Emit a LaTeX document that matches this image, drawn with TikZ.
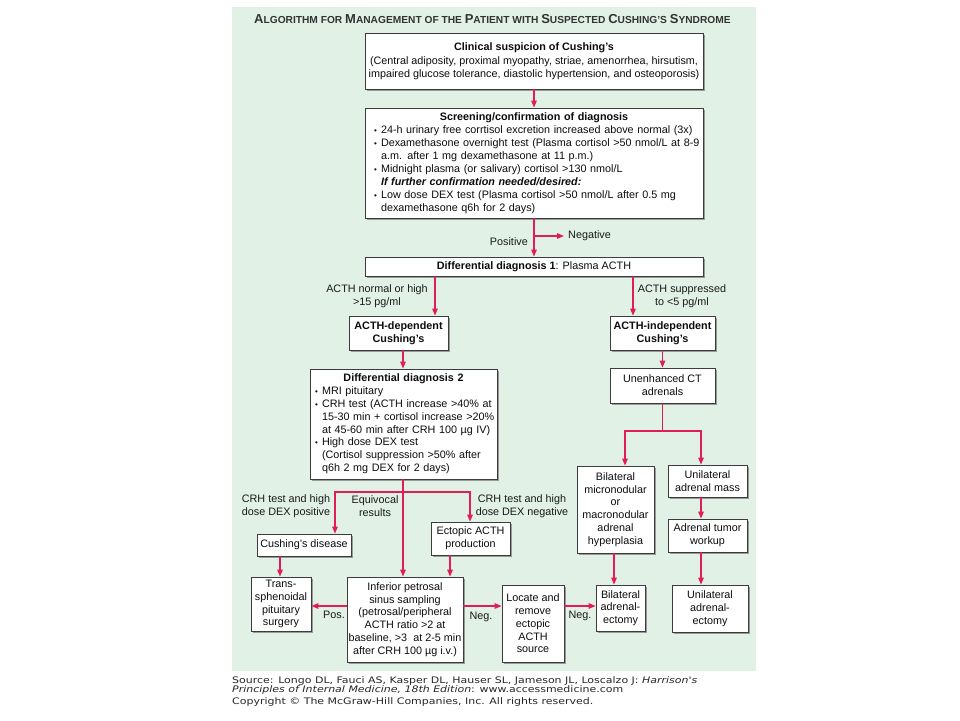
\documentclass[tikz,border=0pt]{standalone}
\usepackage{fontspec}
\setmainfont{Liberation Sans}
\newfontfamily\srcfont{DejaVu Sans}
\usetikzlibrary{arrows.meta,shadows}
\definecolor{bgc}{RGB}{226,241,230}
\definecolor{arr}{RGB}{222,30,84}
\definecolor{bord}{RGB}{60,60,60}
\newcommand\bpt{\makebox[7pt][l]{\fontsize{8}{8}\selectfont •}}
\newcommand\bhang{\hspace*{7pt}}
\newcommand\Tb[1]{{\fontsize{13}{14}\selectfont #1}}
\newcommand\Ts[1]{{\fontsize{10.2}{14}\selectfont #1}}
\tikzset{
  box/.style={draw=bord, line width=0.8pt, fill=white, inner sep=0pt, align=center,
    text=black!95, font=\fontsize{10.8}{12.8}\selectfont,
    drop shadow={shadow xshift=2pt, shadow yshift=-2pt, fill=black!40, opacity=1}},
  conn/.style={draw=arr, line width=1.3pt, -{Triangle[length=7pt,width=5.5pt]}},
  lbl/.style={font=\fontsize{10.8}{12.8}\selectfont, align=center, inner sep=0pt, text=black!90},
  srcline/.style={anchor=base west, inner sep=0pt, text=black!85, font=\srcfont\fontsize{9}{9.8}\selectfont},
}
\begin{document}
\begin{tikzpicture}[x=1pt,y=-1pt]
\useasboundingbox (0,0) rectangle (960,720);
\fill[bgc] (232,7) rectangle (756,671);
\node[anchor=base west, inner sep=0pt, text=black!80, font=\bfseries] (title) at (254,23)
 {\Tb{A}\Ts{LGORITHM FOR }\Tb{M}\Ts{ANAGEMENT OF THE }\Tb{P}\Ts{ATIENT WITH }\Tb{S}\Ts{USPECTED }\Tb{C}\Ts{USHING'S }\Tb{S}\Ts{YNDROME}};

% boxes
\node[box, minimum width=338pt, minimum height=56pt] (clin) at (534,61)
 {\textbf{Clinical suspicion of Cushing's}\\[1pt]
  (Central adiposity, proximal myopathy, striae, amenorrhea, hirsutism,\\
  impaired glucose tolerance, diastolic hypertension, and osteoporosis)};

\node[box, minimum width=338pt, minimum height=110pt, text width=320pt, align=left,
      font=\fontsize{10.8}{13}\selectfont] (screen) at (534,163)
 {{\centering\textbf{Screening/confirmation of diagnosis}\par}
  \mbox{\bpt 24-h urinary free corrtisol excretion increased above normal (3x)}\\
  \mbox{\bpt Dexamethasone overnight test (Plasma cortisol >50 nmol/L at 8-9}\\
  \mbox{\bhang a.m. after 1 mg dexamethasone at 11 p.m.)}\\
  \mbox{\bpt Midnight plasma (or salivary) cortisol >130 nmol/L}\\
  \mbox{\bhang\textbf{\textit{If further confirmation needed/desired:}}}\\
  \mbox{\bpt Low dose DEX test (Plasma cortisol >50 nmol/L after 0.5 mg}\\
  \mbox{\bhang dexamethasone q6h for 2 days)}};

\node[box, minimum width=338pt, minimum height=19pt] (dd1) at (534,266.5)
 {\textbf{Differential diagnosis 1}: Plasma ACTH};

\node[box, minimum width=99pt, minimum height=34pt] (adep) at (398.5,333)
 {\textbf{ACTH-dependent}\\\textbf{Cushing's}};
\node[box, minimum width=105pt, minimum height=34pt] (aind) at (662.5,333)
 {\textbf{ACTH-independent}\\\textbf{Cushing's}};

\node[box, minimum width=187pt, minimum height=110pt, text width=177pt, align=left] (dd2) at (403.5,424)
 {{\centering\textbf{Differential diagnosis 2}\par}
  \mbox{\bpt MRI pituitary}\\
  \mbox{\bpt CRH test (ACTH increase >40\% at}\\
  \mbox{\bhang 15-30 min + cortisol increase >20\%}\\
  \mbox{\bhang at 45-60 min after CRH 100 µg IV)}\\
  \mbox{\bpt High dose DEX test}\\
  \mbox{\bhang (Cortisol suppression >50\% after}\\
  \mbox{\bhang q6h 2 mg DEX for 2 days)}};

\node[box, minimum width=105pt, minimum height=35pt] (ct) at (662.5,385.5)
 {Unenhanced CT\\adrenals};
\node[box, minimum width=77pt, minimum height=87pt] (bhyp) at (615.5,509.5)
 {Bilateral\\micronodular\\or\\macronodular\\adrenal\\hyperplasia};
\node[box, minimum width=79pt, minimum height=32pt] (umass) at (707.5,481)
 {Unilateral\\adrenal mass};
\node[box, minimum width=79pt, minimum height=33pt] (tum) at (707.5,535.5)
 {Adrenal tumor\\workup};
\node[box, minimum width=76pt, minimum height=47pt] (uadx) at (710,608.5)
 {Unilateral\\adrenal-\\ectomy};

\node[box, minimum width=94pt, minimum height=22pt] (cd) at (304,545)
 {Cushing's disease};
\node[box, minimum width=79pt, minimum height=33pt] (ect) at (470.5,538.5)
 {Ectopic ACTH\\production};
\node[box, minimum width=60pt, minimum height=54pt] (trans) at (281,604)
 {Trans-\\sphenoidal\\pituitary\\surgery};
\node[box, minimum width=116pt, minimum height=85pt] (ipss) at (405,619.5)
 {Inferior petrosal\\sinus sampling\\(petrosal/peripheral\\ACTH ratio >2 at\\baseline, >3~ at 2-5 min\\after CRH 100 µg i.v.)};
\node[box, minimum width=62pt, minimum height=77pt] (loc) at (533,623.5)
 {Locate and\\remove\\ectopic\\ACTH\\source};
\node[box, minimum width=49pt, minimum height=46pt] (badx) at (620.5,608)
 {Bilateral\\adrenal-\\ectomy};

% helper coordinates
\coordinate (xA) at (435,0);
\coordinate (xB) at (633,0);
\coordinate (xC) at (403,0);
\coordinate (xD) at (450,0);
\coordinate (xE) at (280,0);
\coordinate (xG) at (614,0);
\coordinate (yF) at (0,606);
\coordinate (negbr) at (534,236);
\coordinate (negend) at (564,236);
\coordinate (hl) at (335,492);
\coordinate (hr) at (470,492);
\coordinate (ctj) at (662.5,431);
\coordinate (sl) at (625,431);
\coordinate (sr) at (701,431);

% connectors
\draw[conn] (clin.south) -- (screen.north);
\draw[conn] (screen.south) -- (dd1.north);
\draw[conn] (negbr) -- (negend);
\draw[conn] (dd1.south -| xA) -- (adep.north -| xA);
\draw[conn] (dd1.south -| xB) -- (aind.north -| xB);
\draw[conn] (adep.south -| xC) -- (dd2.north -| xC);
\draw[conn] (aind.south) -- (ct.north);
\draw[conn] (dd2.south -| xC) -- (ipss.north -| xC);
\draw[conn] (xC |- hl) -- (hl) -- (cd.north -| hl);
\draw[conn] (xC |- hr) -- (hr) -- (ect.north -| hr);
\draw[conn] (ect.south -| xD) -- (ipss.north -| xD);
\draw[conn] (cd.south -| xE) -- (trans.north -| xE);
\draw[conn] (ipss.west |- yF) -- (trans.east |- yF);
\draw[conn] (ipss.east |- yF) -- (loc.west |- yF);
\draw[conn] (loc.east |- yF) -- (badx.west |- yF);
\draw[conn] (ct.south) -- (ctj) -- (sl) -- (bhyp.north -| sl);
\draw[conn] (ctj) -- (sr) -- (umass.north -| sr);
\draw[conn] (bhyp.south -| xG) -- (badx.north -| xG);
\draw[conn] (umass.south -| sr) -- (tum.north -| sr);
\draw[conn] (tum.south -| sr) -- (uadx.north -| sr);

% labels
\node[lbl, anchor=west] (neg) at (568,236) {Negative};
\node[lbl, anchor=east] (pos) at (528,242) {Positive};
\node[lbl] (lA) at (377,296.5) {ACTH normal or high\\>15 pg/ml};
\node[lbl] (lB) at (682,296.5) {ACTH suppressed\\to <5 pg/ml};
\node[lbl] (lC) at (286,506.5) {CRH test and high\\dose DEX positive};
\node[lbl] (lD) at (375,506.5) {Equivocal\\results};
\node[lbl] (lE) at (522,506.5) {CRH test and high\\dose DEX negative};
\node[lbl] (lpos) at (334,615) {Pos.};
\node[lbl] (lneg1) at (481,617) {Neg.};
\node[lbl] (lneg2) at (580,616) {Neg.};

% source
\node[srcline] (src1) at (232,683)
 {\scalebox{1.22}[1]{Source: Longo DL, Fauci AS, Kasper DL, Hauser SL, Jameson JL, Loscalzo J: \textit{Harrison's}}};
\node[srcline] (src2) at (232,692)
 {\scalebox{1.22}[1]{\textit{Principles of Internal Medicine, 18th Edition}: www.accessmedicine.com}};
\node[srcline] (src3) at (232,704)
 {\scalebox{1.22}[1]{Copyright © The McGraw-Hill Companies, Inc. All rights reserved.}};
\end{tikzpicture}
\end{document}
